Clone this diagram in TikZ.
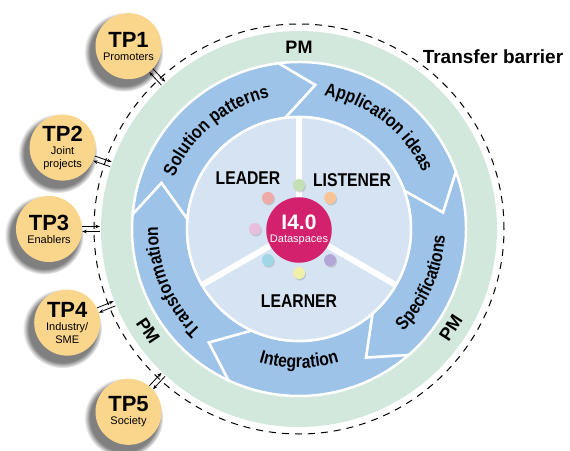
\documentclass[tikz,border=0pt]{standalone}
\usepackage{fontspec}
\setmainfont{Liberation Sans}
\newfontfamily\narrowfont[FakeStretch=0.85]{Liberation Sans}
\usetikzlibrary{calc,arrows.meta,shadows,decorations.text}
\definecolor{pmgreen}{RGB}{211,232,220}
\definecolor{phaseblue}{RGB}{157,195,232}
\definecolor{rolesblue}{RGB}{213,227,243}
\definecolor{tporange}{RGB}{250,213,140}
\definecolor{coremag}{RGB}{212,33,110}
\definecolor{dotgreen}{RGB}{197,224,180}
\definecolor{dotorange}{RGB}{248,196,150}
\definecolor{dotsalmon}{RGB}{240,170,165}
\definecolor{dotpink}{RGB}{232,190,220}
\definecolor{dotcyan}{RGB}{160,215,230}
\definecolor{dotyellow}{RGB}{240,240,170}
\definecolor{dotpurple}{RGB}{180,165,215}
\tikzset{
    tp/.style = {circle, fill=tporange, minimum size=66pt, inner sep=0pt, align=center,
        font=\fontsize{11}{13}\selectfont,
        circular drop shadow={shadow xshift=-4pt, shadow yshift=-5pt, shadow scale=1.2}},
    phase/.style = {fill=phaseblue, draw=white, line width=2.5pt},
    role/.style = {font=\narrowfont\bfseries\fontsize{18.5}{20}\selectfont},
    pm/.style = {font=\bfseries\fontsize{18}{20}\selectfont},
    dot/.style = {circle, minimum size=12pt, inner sep=0pt,
        drop shadow={shadow xshift=1pt, shadow yshift=-1.5pt, opacity=.3}},
    flow/.style = {draw, -{Stealth[length=4.5pt,width=3.5pt]}, line width=.8pt},
    barrier/.style = {draw, dash pattern=on 7pt off 6pt, line width=1pt}
}
% one chevron of the blue ring: start angle, end angle
\newcommand{\phasepath}[2]{%
    (#1:167pt) arc[start angle=#1, end angle=#2, radius=167pt] -- (#2-13.5:145pt) -- (#2:112pt)
    arc[start angle=#2, end angle=#1, radius=112pt] -- (#1-13.5:145pt) -- cycle}
% text, start angle, end angle, radius
\newcommand{\phaselabel}[4]{%
    \path[decorate, decoration={text along path, text align=center,
        text={|\narrowfont\bfseries\fontsize{18.5}{20}\selectfont|#1}}]
        (#2:#4) arc[start angle=#2, end angle=#3, radius=#4];}
\begin{document}
\begin{tikzpicture}[>=Stealth]
    \useasboundingbox (-299pt,-221pt) rectangle (271pt,229pt);
    \fill[pmgreen] (0,0) circle[radius=198pt];
    \foreach \s/\e in {175/97, 97/20, 20/-49, -49/-115, 245/175}{
        \draw[phase] \phasepath{\s}{\e};
    }
    \draw[white, line width=2.5pt, fill=rolesblue] (0,0) circle[radius=112pt];
    \foreach \a in {90,210,330}
        \draw[white, line width=6pt] (0,0) -- (\a:112pt);
    \foreach \a/\c in {90/dotgreen, 45/dotorange, 135/dotsalmon, 180/dotpink,
                       225/dotcyan, 270/dotyellow, 315/dotpurple}
        \node[dot, fill=\c] (dot\a) at (\a:44pt) {};
    \node[circle, fill=coremag, minimum size=64pt, inner sep=0pt, align=center, text=white,
        font=\fontsize{11}{13.5}\selectfont] (core) at (0,-1pt)
        {{\bfseries\fontsize{21}{21}\selectfont I4.0}\\Dataspaces};
    \node[role] (leader) at (-51pt,51pt) {LEADER};
    \node[role] (listener) at (53pt,49pt) {LISTENER};
    \node[role] (learner) at (0,-72pt) {LEARNER};
    \phaselabel{Solution patterns}{170}{90}{135pt}
    \phaselabel{Application ideas}{92}{12}{136pt}
    \phaselabel{Specifications}{-63.5}{16.5}{146pt}
    \phaselabel{Integration}{-130}{-50}{139pt}
    \phaselabel{Transformation}{242.5}{162.5}{141pt}
    \node[pm] (pmtop) at (90:182pt) {PM};
    \node[pm, rotate=57] (pmright) at (-33:181pt) {PM};
    \node[pm, rotate=-56] (pmleft) at (-146:182pt) {PM};
    \draw[barrier] (0,0) circle[radius=205pt];
    \node[font=\bfseries\fontsize{19}{20}\selectfont] (barrierlabel) at (194pt,172pt) {Transfer barrier};
    \foreach \a/\sub [count=\i] in {133/{Promoters}, 161/{Joint\\projects}, 180/{Enablers},
                                    202/{Industry/\\SME}, 227/{Society}}{
        \node[tp] (tp\i) at (\a:250pt) {{\bfseries\fontsize{22}{22}\selectfont TP\i}\\\sub};
    }
    \foreach \a [count=\i, evaluate=\a as \b using {int(mod(\a+180,360))}] in {133,161,180,202,227}{
        \coordinate (gate\i) at (\a:199pt);
        \draw[flow] ($(tp\i.\b)+(\a-90:2.5pt)$) -- ($(gate\i)+(\a-90:2.5pt)$);
        \draw[flow] ($(gate\i)+(\a+90:2.5pt)$) -- ($(tp\i.\b)+(\a+90:2.5pt)$);
    }
\end{tikzpicture}
\end{document}
